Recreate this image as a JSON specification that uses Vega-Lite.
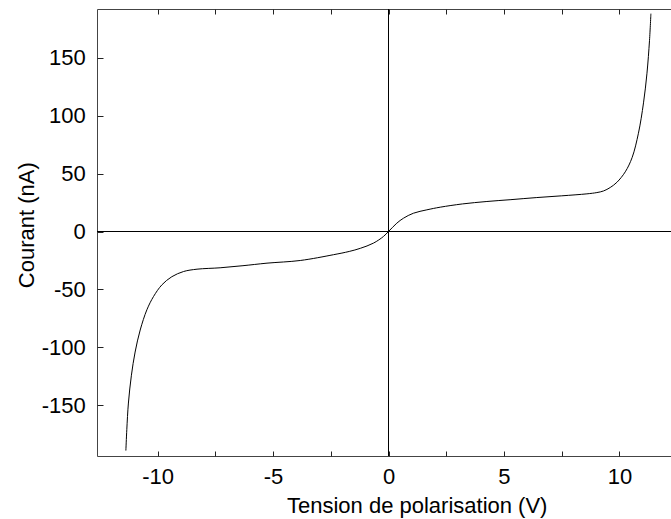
{
  "$schema": "https://vega.github.io/schema/vega-lite/v6.json",
  "width": 574,
  "height": 447,
  "autosize": {"type": "none"},
  "padding": {"left": 97, "top": 9, "right": 0, "bottom": 63},
  "background": "white",
  "config": {
    "view": {"stroke": null},
    "font": "Liberation Sans",
    "axis": {
      "grid": false,
      "domainColor": "#444444",
      "tickColor": "#222222",
      "tickWidth": 1,
      "labelColor": "black",
      "titleColor": "black",
      "labelFont": "Liberation Sans",
      "titleFont": "Liberation Sans",
      "labelFontSize": 22,
      "titleFontSize": 22,
      "titleFontWeight": "normal"
    }
  },
  "data": {
    "values": [
      {"V": -11.37, "I": -189},
      {"V": -11.33, "I": -171},
      {"V": -11.26, "I": -148},
      {"V": -11.13, "I": -124},
      {"V": -10.97, "I": -104},
      {"V": -10.75, "I": -85},
      {"V": -10.46, "I": -67.5},
      {"V": -10.17, "I": -56},
      {"V": -9.81, "I": -46},
      {"V": -9.38, "I": -39},
      {"V": -8.87, "I": -34.5},
      {"V": -8.29, "I": -32.5},
      {"V": -7.29, "I": -31.3},
      {"V": -6.3, "I": -29.5},
      {"V": -5.26, "I": -27.3},
      {"V": -3.82, "I": -25},
      {"V": -2.38, "I": -20},
      {"V": -1.7, "I": -17.2},
      {"V": -1.22, "I": -14.5},
      {"V": -0.65, "I": -10},
      {"V": -0.22, "I": -4.3},
      {"V": 0, "I": 0},
      {"V": 0.36, "I": 7.2},
      {"V": 0.65, "I": 11.5},
      {"V": 1.08, "I": 15.8},
      {"V": 1.66, "I": 18.7},
      {"V": 2.24, "I": 21},
      {"V": 3.2, "I": 23.8},
      {"V": 4.26, "I": 25.9},
      {"V": 5.3, "I": 27.5},
      {"V": 6.42, "I": 29.3},
      {"V": 7.5, "I": 30.8},
      {"V": 8.59, "I": 32.5},
      {"V": 9.02, "I": 33.6},
      {"V": 9.31, "I": 35},
      {"V": 9.6, "I": 38},
      {"V": 9.89, "I": 42.5},
      {"V": 10.25, "I": 51.5},
      {"V": 10.55, "I": 64},
      {"V": 10.82, "I": 84.8},
      {"V": 11.04, "I": 111},
      {"V": 11.19, "I": 136.6},
      {"V": 11.3, "I": 165},
      {"V": 11.36, "I": 188}
    ]
  },
  "layer": [
    {
      "mark": {"type": "line", "color": "black", "strokeWidth": 1, "interpolate": "catmull-rom"},
      "encoding": {
        "x": {
          "field": "V",
          "type": "quantitative",
          "scale": {"domain": [-12.62, 12.23], "nice": false, "zero": false},
          "axis": {
            "orient": "bottom",
            "title": "Tension de polarisation (V)",
            "values": [-10, -5, 0, 5, 10],
            "labelExpr": "'' + datum.value",
            "ticks": true,
            "tickSize": 0,
            "tickOpacity": 0,
            "labelPadding": 27.3,
            "labelBaseline": "alphabetic",
            "labelFlush": false,
            "titleX": 319.7,
            "titleY": 56.7,
            "titleAlign": "center",
            "titleBaseline": "alphabetic",
            "titleAnchor": null
          }
        },
        "y": {
          "field": "I",
          "type": "quantitative",
          "scale": {"domain": [-193.7, 192], "nice": false, "zero": false},
          "axis": {
            "orient": "left",
            "title": "Courant (nA)",
            "values": [-150, -100, -50, 0, 50, 100, 150],
            "labelExpr": "'' + datum.value",
            "ticks": true,
            "tickSize": 0,
            "tickOpacity": 0,
            "labelPadding": 11.7,
            "labelBaseline": "middle",
            "labelFlush": false,
            "titleX": -64,
            "titleY": 215.7,
            "titleAngle": -90,
            "titleAlign": "center",
            "titleBaseline": "alphabetic"
          }
        }
      }
    },
    {
      "mark": {"type": "rule", "color": "black", "strokeWidth": 1},
      "encoding": {
        "y": {
          "datum": 0,
          "type": "quantitative",
          "axis": {
            "orient": "left",
            "offset": -6,
            "title": null,
            "domain": false,
            "labels": false,
            "ticks": true,
            "tickSize": 6,
            "values": [-150, -100, -50, 0, 50, 100, 150]
          }
        }
      }
    },
    {
      "mark": {"type": "rule", "color": "black", "strokeWidth": 1},
      "encoding": {
        "x": {
          "datum": 0,
          "type": "quantitative",
          "axis": {
            "orient": "top",
            "title": null,
            "domain": true,
            "labels": false,
            "ticks": false
          }
        }
      }
    },
    {
      "mark": {"type": "rule", "color": "black", "strokeWidth": 1},
      "encoding": {
        "x": {
          "datum": 0,
          "type": "quantitative",
          "axis": {
            "orient": "top",
            "offset": -5,
            "title": null,
            "domain": false,
            "labels": false,
            "ticks": true,
            "tickSize": 5,
            "values": [-10, -7.5, -5, -2.5, 0, 2.5, 5, 7.5, 10]
          }
        }
      }
    },
    {
      "mark": {"type": "rule", "color": "black", "strokeWidth": 1},
      "encoding": {
        "x": {
          "datum": 0,
          "type": "quantitative",
          "axis": {
            "orient": "bottom",
            "offset": -5,
            "title": null,
            "domain": false,
            "labels": false,
            "ticks": true,
            "tickSize": 5,
            "values": [-10, -7.5, -5, -2.5, 0, 2.5, 5, 7.5, 10]
          }
        }
      }
    }
  ],
  "resolve": {"axis": {"x": "independent", "y": "independent"}}
}
